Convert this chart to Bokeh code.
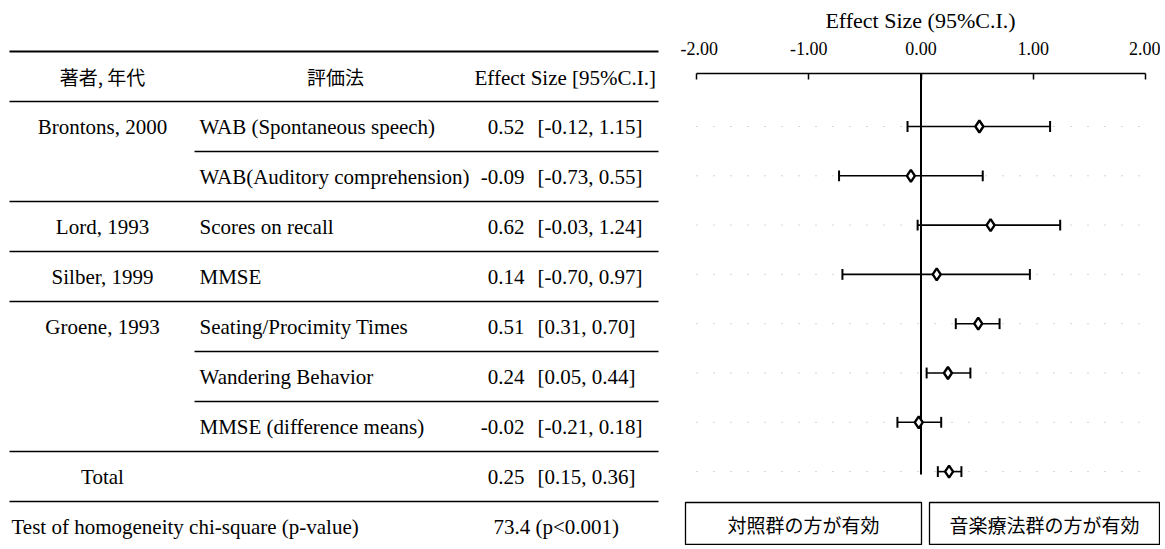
from bokeh.plotting import figure
from bokeh.models import Range1d, FixedTicker, ColumnDataSource
from bokeh.layouts import row
from bokeh.core.properties import value
from bokeh.embed import file_html
from bokeh.resources import INLINE

# ---------------- data ----------------
authors = ["Brontons, 2000", "", "Lord, 1993", "Silber, 1999", "Groene, 1993", "", "", "Total"]
methods = ["WAB (Spontaneous speech)", "WAB(Auditory comprehension)", "Scores on recall", "MMSE",
           "Seating/Procimity Times", "Wandering Behavior", "MMSE (difference means)", ""]
effect = [0.52, -0.09, 0.62, 0.14, 0.51, 0.24, -0.02, 0.25]
lower = [-0.12, -0.73, -0.03, -0.70, 0.31, 0.05, -0.21, 0.15]
upper = [1.15, 0.55, 1.24, 0.97, 0.70, 0.44, 0.18, 0.36]
header = ["著者, 年代", "評価法", "Effect Size [95%C.I.]"]
homog_label = "Test of homogeneity chi-square (p-value)"
chi_square = 73.4
p_text = "p<0.001"
x_ticks = [-2, -1, 0, 1, 2]
x_tick_labels = ["-2.00", "-1.00", "0.00", "1.00", "2.00"]
axis_title = "Effect Size (95%C.I.)"
side_labels = ["対照群の方が有効", "音楽療法群の方が有効"]

SERIF = value("Liberation Serif")
CJK = value("Noto Sans CJK JP")
FS = "21px"

ORIGIN = 1          # page pixel where the layout starts
TW, FW, H = 680, 480, 545

# ---------------- left table (page pixel coordinates) ----------------
t = figure(width=TW, height=H, x_range=Range1d(ORIGIN, ORIGIN + TW),
           y_range=Range1d(ORIGIN + H, ORIGIN),
           output_backend="svg", toolbar_location=None, min_border=0,
           x_axis_location=None, y_axis_location=None, frame_align=False)
t.outline_line_color = None
t.xgrid.visible = False
t.ygrid.visible = False

n = len(effect)
row_y = [127 + 50 * i for i in range(n)]

# rules
t.segment(x0=[10], y0=[52], x1=[659], y1=[52], line_color="black", line_width=2)
rule_y = [102 + 50 * i for i in range(n + 1)]
rule_x0 = [195 if i in (1, 5, 6) else 10 for i in range(n + 1)]
t.segment(x0=rule_x0, y0=rule_y, x1=[659] * len(rule_y), y1=rule_y, line_color="black", line_width=1.5)

# header
t.text(x=[103], y=[77], text=[header[0]], text_font=CJK, text_font_size="19px",
       text_align="center", text_baseline="middle", text_color="black")
t.text(x=[336], y=[77], text=[header[1]], text_font=CJK, text_font_size="19px",
       text_align="center", text_baseline="middle", text_color="black")
t.text(x=[475], y=[78], text=[header[2]], text_font=SERIF, text_font_size=FS,
       text_align="left", text_baseline="middle", text_color="black")

src = ColumnDataSource(dict(
    y=row_y, authors=authors, methods=methods,
    eff=[f"{v:.2f}" for v in effect],
    ci=[f"[{lo:.2f}, {hi:.2f}]" for lo, hi in zip(lower, upper)],
))
common = dict(source=src, text_font=SERIF, text_font_size=FS, text_baseline="middle", text_color="black")
t.text(x=103, y="y", text="authors", text_align="center", **common)
t.text(x=200, y="y", text="methods", text_align="left", **common)
t.text(x=525, y="y", text="eff", text_align="right", **common)
t.text(x=538, y="y", text="ci", text_align="left", **common)

t.text(x=[12], y=[527], text=[homog_label], text_font=SERIF, text_font_size=FS,
       text_align="left", text_baseline="middle", text_color="black")
t.text(x=[494], y=[527], text=[f"{chi_square} ({p_text})"], text_font=SERIF, text_font_size=FS,
       text_align="left", text_baseline="middle", text_color="black")

# ---------------- right forest plot ----------------
PX0, PX1 = ORIGIN + TW, ORIGIN + TW + FW
X_LEFT_PX, X_RIGHT_PX = 697, 1146   # page x of -2 and +2
scale = (X_RIGHT_PX - X_LEFT_PX) / 4.0
def px2x(px):
    return -2 + (px - X_LEFT_PX) / scale

TOP_PX = 74
ROW0_PX, ROW_STEP = 127, 49.3
def py2r(py):
    return (py - ROW0_PX) / ROW_STEP

f = figure(width=FW, height=H, x_range=Range1d(px2x(PX0), px2x(PX1)),
           y_range=Range1d(py2r(ORIGIN + H), py2r(TOP_PX)),
           output_backend="svg", toolbar_location=None,
           x_axis_location="above", y_axis_location=None,
           min_border_left=0, min_border_right=0, min_border_bottom=0,
           min_border_top=TOP_PX - ORIGIN, frame_align=False)
f.outline_line_color = None
f.xgrid.visible = False
f.ygrid.visible = False

ax = f.xaxis[0]
ax.bounds = (-2, 2)
ax.ticker = FixedTicker(ticks=x_ticks)
ax.major_label_overrides = {k: v for k, v in zip(x_ticks, x_tick_labels)}
ax.minor_tick_line_color = None
ax.major_tick_in = 6
ax.major_tick_out = 0
ax.major_tick_line_width = 1.5
ax.axis_line_width = 1.5
ax.major_label_text_font = "Liberation Serif"
ax.major_label_text_font_size = "18px"
ax.major_label_text_color = "black"
ax.major_label_standoff = 19
ax.axis_label = axis_title
ax.axis_label_text_font = "Liberation Serif"
ax.axis_label_text_font_size = "22px"
ax.axis_label_text_font_style = "normal"
ax.axis_label_text_color = "black"
ax.axis_label_standoff = 6

rows = list(range(n))

# faint dotted row traces (scan remnants of dotted guides)
f.segment(x0=[-2.0] * n, y0=rows, x1=[2.0] * n, y1=rows, line_color="#777777",
          line_width=1, line_dash="1 16", line_alpha=0.6)

# zero line
f.segment(x0=[0], y0=[py2r(TOP_PX)], x1=[0], y1=[py2r(475)], line_color="black", line_width=2)

# CIs
f.segment(x0=lower, y0=rows, x1=upper, y1=rows, line_color="black", line_width=1.6)
cap = 0.11
f.segment(x0=lower, y0=[r - cap for r in rows], x1=lower, y1=[r + cap for r in rows],
          line_color="black", line_width=2)
f.segment(x0=upper, y0=[r - cap for r in rows], x1=upper, y1=[r + cap for r in rows],
          line_color="black", line_width=2)
f.scatter(x=effect, y=rows, marker="diamond", size=12, fill_color="white",
          line_color="black", line_width=2.4)

# bottom boxes
box_top, box_bot = py2r(503), py2r(545)
f.quad(left=[px2x(686), px2x(930)], right=[px2x(922), px2x(1160)],
       top=[box_top] * 2, bottom=[box_bot] * 2,
       fill_color="white", line_color="black", line_width=1.3)
f.text(x=[px2x((686 + 922) / 2), px2x((930 + 1160) / 2)], y=[py2r(525)] * 2, text=side_labels,
       text_font=CJK, text_font_size="19px", text_align="center", text_baseline="middle",
       text_color="black")

layout = row(t, f)
open("out.html", "w").write(file_html(layout, INLINE))
